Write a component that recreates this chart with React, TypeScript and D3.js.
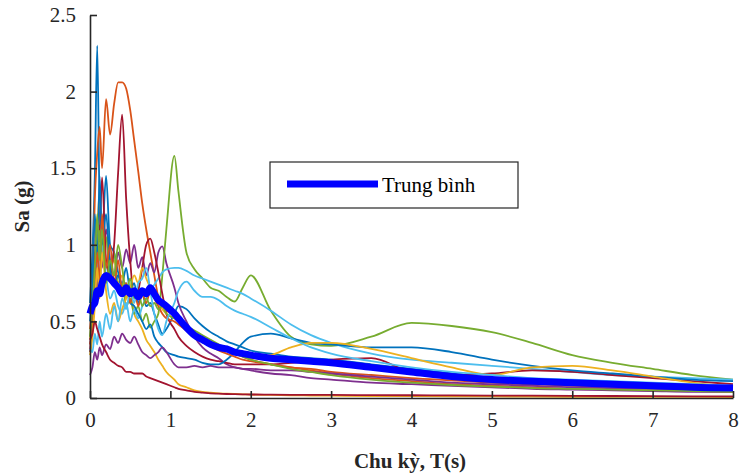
import React, { useEffect, useRef } from 'react'
import * as d3 from 'd3'

// chu ky T (s) dung chung cho moi pho
const periods = [
	0, 0.03, 0.06, 0.09, 0.12, 0.15,
	0.2, 0.25, 0.3, 0.35, 0.4, 0.45, 0.5, 0.55, 0.6, 0.65, 0.7, 0.75, 0.8, 0.85, 0.9, 0.95,
	1.05, 1.1, 1.2, 1.3, 1.4, 1.5, 1.6, 1.7, 1.8, 1.9, 2.0,
	2.25, 2.5, 2.75, 3.0,
	3.5, 4.0, 4.5, 5.0, 5.5, 6.0, 6.5, 7.0, 7.5, 8.0,
]

// Sa (g) cua tung ban ghi
const rec01 = [
	0.62, 0.95, 1.45, 2.3, 1.25, 1.05,
	1.45, 1.0, 0.95, 0.82, 0.75, 0.85, 0.7, 0.75, 0.62, 0.68, 0.6, 0.62, 0.55, 0.48, 0.42, 0.45,
	0.55, 0.6, 0.58, 0.52, 0.47, 0.43, 0.4, 0.37, 0.35, 0.33, 0.31,
	0.29, 0.27, 0.26, 0.25,
	0.22, 0.19, 0.16, 0.13, 0.11, 0.095, 0.085, 0.075, 0.065, 0.06,
]
const rec02 = [
	0.45, 0.7, 1.3, 1.6, 1.77, 1.5,
	1.95, 1.72, 1.92, 2.06, 2.06, 2.02, 1.88, 1.68, 1.48, 1.27, 1.1, 0.95, 0.8, 0.66, 0.6, 0.57,
	0.54, 0.5, 0.44, 0.4, 0.37, 0.35, 0.33, 0.31, 0.29, 0.27, 0.25,
	0.22, 0.2, 0.18, 0.16,
	0.13, 0.11, 0.09, 0.08, 0.07, 0.06, 0.055, 0.05, 0.045, 0.04,
]
const rec03 = [
	0.38, 0.6, 0.9, 1.1, 1.34, 0.95,
	1.05, 0.85, 0.9, 0.75, 0.8, 0.65, 0.7, 0.55, 0.5, 0.45, 0.38, 0.34, 0.3, 0.25, 0.21, 0.17,
	0.12, 0.09, 0.07, 0.05, 0.04, 0.035, 0.03, 0.028, 0.026, 0.024, 0.022,
	0.02, 0.018, 0.016, 0.015,
	0.013, 0.012, 0.011, 0.01, 0.009, 0.008, 0.008, 0.007, 0.007, 0.006,
]
const rec04 = [
	0.35, 0.5, 0.8, 0.7, 1.0, 0.85,
	1.1, 0.9, 0.8, 0.95, 0.85, 0.97, 0.88, 1.0, 0.85, 0.92, 0.8, 0.88, 0.82, 0.95, 0.99, 0.88,
	0.72, 0.62, 0.5, 0.4, 0.33, 0.29, 0.26, 0.22, 0.2, 0.19, 0.18,
	0.16, 0.15, 0.13, 0.12,
	0.1, 0.09, 0.08, 0.07, 0.06, 0.055, 0.05, 0.045, 0.04, 0.04,
]
const rec05 = [
	0.55, 0.7, 0.95, 0.8, 1.1, 0.9,
	1.05, 0.8, 0.95, 0.7, 0.75, 0.6, 0.65, 0.55, 0.6, 0.5, 0.55, 0.46, 0.5, 0.55, 0.8, 1.1,
	1.58, 1.35, 0.95, 0.84, 0.78, 0.72, 0.7, 0.66, 0.63, 0.72, 0.8,
	0.57, 0.4, 0.35, 0.34,
	0.4, 0.49, 0.47, 0.43, 0.36, 0.28, 0.23, 0.19, 0.15, 0.12,
]
const rec06 = [
	0.3, 0.45, 0.7, 0.9, 0.75, 1.0,
	0.8, 0.65, 0.7, 0.6, 0.55, 0.62, 0.5, 0.58, 0.52, 0.6, 0.65, 0.7, 0.74, 0.78, 0.82, 0.84,
	0.85, 0.85, 0.83, 0.8, 0.78, 0.76, 0.74, 0.72, 0.7, 0.68, 0.65,
	0.57, 0.48, 0.41, 0.36,
	0.29, 0.25, 0.23, 0.21, 0.19, 0.17, 0.15, 0.14, 0.13, 0.12,
]
const rec07 = [
	0.3, 0.55, 0.9, 1.15, 1.1, 1.44,
	0.9, 0.8, 1.0, 1.47, 1.85, 1.3, 0.9, 0.65, 0.7, 0.85, 1.0, 1.04, 0.95, 0.82, 0.68, 0.55,
	0.45, 0.4, 0.34, 0.3, 0.27, 0.25, 0.24, 0.23, 0.22, 0.22, 0.22,
	0.22, 0.23, 0.24, 0.25,
	0.26, 0.17, 0.15, 0.16, 0.18, 0.17, 0.15, 0.13, 0.11, 0.09,
]
const rec08 = [
	0.5, 0.75, 1.2, 0.9, 1.45, 1.0,
	1.2, 0.85, 0.75, 0.8, 0.7, 0.75, 0.62, 0.6, 0.55, 0.5, 0.45, 0.48, 0.4, 0.36, 0.33, 0.3,
	0.28, 0.27, 0.26, 0.25, 0.23, 0.22, 0.22, 0.25, 0.3, 0.36, 0.4,
	0.42, 0.39, 0.36, 0.35,
	0.33, 0.33, 0.3, 0.25, 0.21, 0.18, 0.16, 0.14, 0.12, 0.11,
]
const rec09 = [
	0.35, 0.45, 0.7, 0.95, 0.75, 1.2,
	0.85, 1.0, 0.75, 0.9, 0.7, 0.75, 0.62, 0.7, 0.6, 0.68, 0.62, 0.7, 0.65, 0.6, 0.55, 0.52,
	0.5, 0.48, 0.44, 0.4, 0.37, 0.34, 0.31, 0.29, 0.27, 0.25, 0.24,
	0.22, 0.2, 0.19, 0.17,
	0.15, 0.13, 0.115, 0.1, 0.09, 0.08, 0.072, 0.065, 0.058, 0.05,
]
const rec10 = [
	0.28, 0.4, 0.6, 0.85, 0.65, 0.95,
	0.7, 0.55, 0.62, 0.5, 0.58, 0.65, 0.72, 0.8, 0.75, 0.85, 0.78, 0.72, 0.68, 0.62, 0.58, 0.55,
	0.52, 0.5, 0.46, 0.42, 0.39, 0.36, 0.34, 0.32, 0.3, 0.28, 0.26,
	0.28, 0.33, 0.36, 0.36,
	0.32, 0.26, 0.2, 0.15, 0.2, 0.21, 0.18, 0.14, 0.1, 0.07,
]
const rec11 = [
	0.15, 0.2, 0.3, 0.25, 0.33, 0.28,
	0.35, 0.32, 0.4, 0.36, 0.42, 0.38, 0.36, 0.4, 0.35, 0.3, 0.28, 0.26, 0.28, 0.3, 0.33, 0.3,
	0.22, 0.2, 0.2, 0.21, 0.2, 0.21, 0.2, 0.2, 0.2, 0.19, 0.19,
	0.18, 0.18, 0.17, 0.16,
	0.14, 0.12, 0.1, 0.09, 0.08, 0.07, 0.065, 0.06, 0.055, 0.05,
]
const rec12 = [
	0.4, 0.6, 0.85, 1.2, 0.9, 1.1,
	0.75, 0.9, 0.8, 1.0, 0.85, 0.7, 0.78, 0.65, 0.7, 0.6, 0.65, 0.6, 0.62, 0.58, 0.6, 0.55,
	0.52, 0.5, 0.47, 0.44, 0.41, 0.38, 0.35, 0.32, 0.29, 0.27, 0.25,
	0.22, 0.19, 0.17, 0.15,
	0.12, 0.1, 0.085, 0.075, 0.065, 0.06, 0.055, 0.05, 0.045, 0.04,
]
const rec13 = [
	0.32, 0.3, 0.42, 0.35, 0.5, 0.4,
	0.55, 0.45, 0.6, 0.5, 0.65, 0.58, 0.7, 0.62, 0.75, 0.78, 0.85, 0.7, 0.55, 0.45, 0.41, 0.5,
	0.62, 0.7, 0.76, 0.7, 0.66, 0.66, 0.64, 0.6, 0.57, 0.55, 0.53,
	0.46, 0.39, 0.33, 0.29,
	0.24, 0.2, 0.17, 0.15, 0.13, 0.12, 0.11, 0.1, 0.09, 0.08,
]
const rec14 = [
	0.38, 0.42, 0.5, 0.45, 0.4, 0.35,
	0.3, 0.25, 0.23, 0.21, 0.2, 0.17, 0.17, 0.16, 0.16, 0.16, 0.14, 0.13, 0.12, 0.11, 0.1, 0.09,
	0.07, 0.06, 0.05, 0.04, 0.035, 0.03, 0.028, 0.026, 0.025, 0.024, 0.023,
	0.022, 0.021, 0.02, 0.02,
	0.019, 0.018, 0.017, 0.016, 0.015, 0.014, 0.013, 0.012, 0.011, 0.01,
]

// pho trung binh
const meanSa = [
	0.55, 0.6, 0.62, 0.7, 0.68, 0.75,
	0.8, 0.78, 0.75, 0.72, 0.68, 0.72, 0.68, 0.7, 0.66, 0.7, 0.68, 0.72, 0.68, 0.64, 0.62, 0.6,
	0.55, 0.52, 0.46, 0.41, 0.38, 0.35, 0.33, 0.32, 0.3, 0.29, 0.28,
	0.26, 0.25, 0.24, 0.23,
	0.2, 0.17, 0.14, 0.12, 0.11, 0.1, 0.09, 0.08, 0.07, 0.065,
]

const records = [rec01, rec02, rec03, rec04, rec05, rec06, rec07, rec08, rec09, rec10, rec11, rec12, rec13, rec14]
const colors = ['#0072BD', '#D95319', '#EDB120', '#7E2F8E', '#77AC30', '#4DBEEE', '#A2142F']

const xTicks = [0, 1, 2, 3, 4, 5, 6, 7, 8]
const yTicks = [0, 0.5, 1, 1.5, 2, 2.5]
const yTickLabels = ['0', '0.5', '1', '1.5', '2', '2.5']
const legendLabel = 'Trung bình'

const App = () => {
	const ref = useRef<SVGSVGElement>(null)
	const width = 739,
		height = 474

	useEffect(() => {
		const svg = d3.select(ref.current)
		svg.selectAll('*').remove()

		const x = d3.scaleLinear().domain([0, 8]).range([90, 733])
		const y = d3.scaleLinear().domain([0, 2.5]).range([398, 15])
		const font = '"Liberation Serif", "Times New Roman", serif'
		const axisColor = '#262626'

		const line = d3
			.line<number>()
			.x((d, i) => x(periods[i]))
			.y(d => y(d))
			.curve(d3.curveMonotoneX)

		const g = svg.append('g')

		records.forEach((rec, i) => {
			g.append('path')
				.attr('d', line(rec))
				.attr('fill', 'none')
				.attr('stroke', colors[i % colors.length])
				.attr('stroke-width', 1.8)
				.attr('stroke-linejoin', 'round')
		})

		g.append('path')
			.attr('d', line(meanSa))
			.attr('fill', 'none')
			.attr('stroke', '#0000FF')
			.attr('stroke-width', 7)
			.attr('stroke-linejoin', 'round')

		// truc (tick huong vao trong kieu MATLAB)
		const xAxis = svg
			.append('g')
			.attr('transform', `translate(0,${y(0)})`)
			.call(d3.axisBottom(x).tickValues(xTicks).tickSizeInner(-7).tickSizeOuter(0).tickPadding(14))
		const yAxis = svg
			.append('g')
			.attr('transform', `translate(${x(0)},0)`)
			.call(
				d3
					.axisLeft(y)
					.tickValues(yTicks)
					.tickFormat((d, i) => yTickLabels[i])
					.tickSizeInner(-7)
					.tickSizeOuter(0)
					.tickPadding(14)
			)

		;[xAxis, yAxis].forEach(a => {
			a.attr('font-family', null)
			a.select('.domain').attr('stroke', axisColor).attr('stroke-width', 1.6)
			a.selectAll('.tick line').attr('stroke', axisColor).attr('stroke-width', 1.6)
			a.selectAll('.tick text')
				.attr('fill', axisColor)
				.style('font-family', font)
				.style('font-size', '21px')
		})

		// tieu de truc
		svg.append('text')
			.attr('x', 410)
			.attr('y', 468)
			.attr('text-anchor', 'middle')
			.attr('fill', axisColor)
			.style('font-family', font)
			.style('font-size', '21px')
			.style('font-weight', 'bold')
			.text('Chu kỳ, T(s)')

		svg.append('text')
			.attr('transform', `translate(29,${(y(0) + y(2.5)) / 2}) rotate(-90)`)
			.attr('text-anchor', 'middle')
			.attr('fill', axisColor)
			.style('font-family', font)
			.style('font-size', '21px')
			.style('font-weight', 'bold')
			.text('Sa (g)')

		// chu thich
		const lg = svg.append('g')
		lg.append('rect')
			.attr('x', 270)
			.attr('y', 162)
			.attr('width', 248)
			.attr('height', 46)
			.attr('fill', 'white')
			.attr('stroke', axisColor)
			.attr('stroke-width', 1.2)
		lg.append('line')
			.attr('x1', 287)
			.attr('x2', 378)
			.attr('y1', 184)
			.attr('y2', 184)
			.attr('stroke', '#0000FF')
			.attr('stroke-width', 7)
		lg.append('text')
			.attr('x', 382)
			.attr('y', 192)
			.attr('fill', '#000')
			.style('font-family', font)
			.style('font-size', '21px')
			.text(legendLabel)
	}, [])

	return (
		<svg
			ref={ref}
			width={width}
			height={height}
			style={{ position: 'absolute', left: 0, top: 0, background: 'white' }}
		></svg>
	)
}

export default App
